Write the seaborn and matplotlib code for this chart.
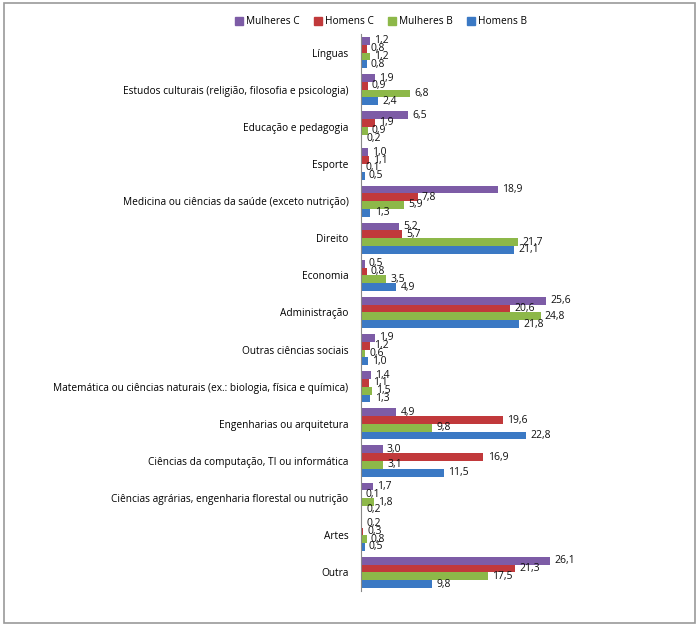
import pandas as pd
import seaborn as sns
import matplotlib.pyplot as plt
from matplotlib.patches import Rectangle

categorias = [
    'Línguas',
    'Estudos culturais (religião, filosofia e psicologia)',
    'Educação e pedagogia',
    'Esporte',
    'Medicina ou ciências da saúde (exceto nutrição)',
    'Direito',
    'Economia',
    'Administração',
    'Outras ciências sociais',
    'Matemática ou ciências naturais (ex.: biologia, física e química)',
    'Engenharias ou arquitetura',
    'Ciências da computação, TI ou informática',
    'Ciências agrárias, engenharia florestal ou nutrição',
    'Artes',
    'Outra',
]
mulheres_c = [1.2, 1.9, 6.5, 1.0, 18.9, 5.2, 0.5, 25.6, 1.9, 1.4, 4.9, 3.0, 1.7, 0.2, 26.1]
homens_c = [0.8, 0.9, 1.9, 1.1, 7.8, 5.7, 0.8, 20.6, 1.2, 1.1, 19.6, 16.9, 0.1, 0.3, 21.3]
mulheres_b = [1.2, 6.8, 0.9, 0.1, 5.9, 21.7, 3.5, 24.8, 0.6, 1.5, 9.8, 3.1, 1.8, 0.8, 17.5]
homens_b = [0.8, 2.4, 0.2, 0.5, 1.3, 21.1, 4.9, 21.8, 1.0, 1.3, 22.8, 11.5, 0.2, 0.5, 9.8]
series = ['Mulheres C', 'Homens C', 'Mulheres B', 'Homens B']
cores = ['#7D5CA6', '#C1393B', '#8DB849', '#3B79C4']

df = pd.DataFrame({
    'categoria': categorias * 4,
    'serie': [s for s in series for _ in categorias],
    'valor': mulheres_c + homens_c + mulheres_b + homens_b,
})

fonte = 'Open Sans'
plt.rcParams['font.family'] = [fonte, 'DejaVu Sans']

fig = plt.figure(figsize=(6.99, 6.30), dpi=100)
ax = fig.add_axes([361 / 699, 1 - 591 / 630, 326 / 699, 557 / 630])

sns.barplot(data=df, y='categoria', x='valor', hue='serie', order=categorias,
            hue_order=series, palette=cores, orient='h', width=0.84,
            saturation=1, ax=ax, legend=False)

# rótulos de dados no estilo do Excel (vírgula decimal)
for cont in ax.containers:
    ax.bar_label(cont, labels=[f'{v:.1f}'.replace('.', ',') for v in cont.datavalues],
                 padding=3, fontsize=7.5, color='#111111')

ax.set_xlim(0, 45)
ax.set_ylim(14.5, -0.5)
ax.set_xlabel('')
ax.set_ylabel('')
ax.set_xticks([])
ax.tick_params(axis='y', length=0, pad=9, labelsize=7.3)
for s in ['top', 'right', 'bottom']:
    ax.spines[s].set_visible(False)
ax.spines['left'].set_color('#888888')
ax.spines['left'].set_linewidth(0.8)

handles = [Rectangle((0, 0), 1, 1, color=c) for c in cores]
fig.legend(handles, series, loc='center', bbox_to_anchor=(381 / 699, 1 - 22 / 630),
           ncol=4, frameon=False, fontsize=7.3, handlelength=0.8, handleheight=0.8,
           handletextpad=0.3, columnspacing=1.4)

fig.patches.append(Rectangle((4 / 699, 1 - 623 / 630), 691 / 699, 620 / 630,
                             transform=fig.transFigure, fill=False,
                             edgecolor='#999999', linewidth=1.2))

fig.savefig('out.png', dpi=100)
